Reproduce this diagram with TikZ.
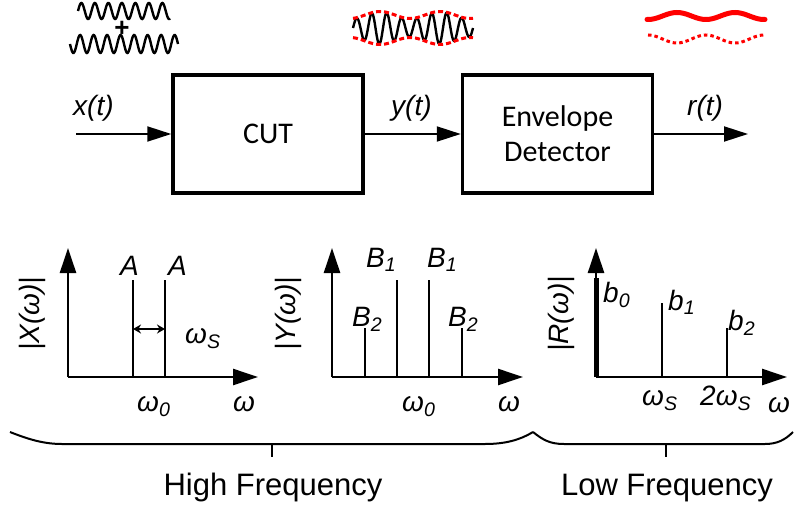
\documentclass[tikz,border=0pt]{standalone}
\usepackage{fontspec}
\setmainfont{Liberation Sans}
\newfontfamily\boxfont{Carlito}
\usetikzlibrary{arrows.meta,positioning,calc}

\begin{document}
\begin{tikzpicture}[x=1pt,y=-1pt,
  block/.style={draw, line width=3.5pt, minimum width=190pt, minimum height=118pt, align=center, font=\boxfont\fontsize{30}{35}\selectfont},
  sigarrow/.style={line width=2pt, -{Triangle[length=24pt,width=15pt]}},
  axis/.style={line width=2.5pt, -{Triangle[length=25pt,width=16pt]}},
  spec/.style={line width=2pt},
  lbl/.style={anchor=base west, inner sep=0pt, font=\itshape\fontsize{28}{30}\selectfont},
  ylbl/.style={rotate=90, inner sep=0pt, font=\itshape\fontsize{28}{30}\selectfont},
  band/.style={anchor=base, inner sep=0pt, font=\fontsize{31}{35}\selectfont},
  wave/.style={line width=2.4pt, smooth},
  env/.style={red, line width=3pt, smooth}
]
\useasboundingbox (0,0) rectangle (794,508);

% Blocks
\node[block] (cut) at (268,134) {CUT};
\node[block] (det) at (557.5,134) {Envelope\\Detector};
\coordinate (in) at (76,134);
\coordinate (out) at (748,134);

% arrows
\draw[sigarrow] (in) -- (cut);
\draw[sigarrow] (cut) -- (det);
\draw[sigarrow] (det) -- (out);
\node[lbl] (xt) at (73,115) {x(t)};
\node[lbl] (yt) at (391,115) {y(t)};
\node[lbl] (rt) at (687,115) {r(t)};

% Waveforms on top
\draw[wave] plot[domain=78:170, samples=160] (\x, {11 - 8*sin((\x-78)*26.667)});
\draw[wave] plot[domain=70:178, samples=180] (\x, {44 + 9*sin((\x-70)*26.667)});
\node[inner sep=0pt, font=\bfseries\fontsize{26}{26}\selectfont] (plus) at (122,29) {+};

\draw[wave] plot[domain=353:473, samples=240] (\x, {28 - (12.5+3.5*cos((\x-380)*6))*sin((\x-353)*24)});
\draw[env, dash pattern=on 5pt off 3pt] plot[domain=353:473, samples=80] (\x, {28 - (13+3.5*cos((\x-380)*6))});
\draw[env, dash pattern=on 5pt off 3pt] plot[domain=353:473, samples=80] (\x, {28 + (13+3.5*cos((\x-380)*6))});

\draw[env, line width=5pt, line cap=round] plot[domain=647:765, samples=80] (\x, {16 - 3.5*cos((\x-677)*6.207)});
\draw[env, dash pattern=on 3.5pt off 3pt] plot[domain=648:765, samples=80] (\x, {39 + 4*cos((\x-677)*6.207)});

% Spectrum of x(t)
\coordinate (xo) at (68,377);
\coordinate (xup) at (68,248);
\coordinate (xright) at (258,377);
\draw[axis] (xo) -- (xup);
\draw[axis] (xo) -- (xright);
\foreach \xx in {133,165} \draw[spec] (\xx,377) -- (\xx,280);
\draw[line width=1.5pt, {Stealth[length=8pt,width=9pt]}-{Stealth[length=8pt,width=9pt]}] (133,329) -- (165,329);
\node[lbl] (xa1) at (120,275) {A};
\node[lbl] (xa2) at (168,275) {A};
\node[lbl] (xws) at (185,343) {ω\textsubscript{S}};
\node[lbl] (xw0) at (137,411) {ω\textsubscript{0}};
\node[lbl] (xw) at (233,411) {ω};
\node[ylbl] (xmag) at (32,314) {|X(ω)|};

% Spectrum of y(t)
\coordinate (yo) at (332,377);
\coordinate (yup) at (332,248);
\coordinate (yright) at (523,377);
\draw[axis] (yo) -- (yup);
\draw[axis] (yo) -- (yright);
\foreach \xx/\hh in {365/328,397/280,429/280,462/328} \draw[spec] (\xx,377) -- (\xx,\hh);
\node[lbl] (yb1) at (366,267) {B\textsubscript{1}};
\node[lbl] (yb1r) at (427,267) {B\textsubscript{1}};
\node[lbl] (yb2) at (352,326) {B\textsubscript{2}};
\node[lbl] (yb2r) at (448,326) {B\textsubscript{2}};
\node[lbl] (yw0) at (402,411) {ω\textsubscript{0}};
\node[lbl] (yw) at (498,411) {ω};
\node[ylbl] (ymag) at (288,314) {|Y(ω)|};

% Spectrum of r(t)
\coordinate (ro) at (596,377);
\coordinate (rup) at (596,248);
\coordinate (rright) at (787,377);
\draw[axis] (ro) -- (rup);
\draw[axis] (ro) -- (rright);
\draw[line width=5pt] (596,377) -- (596,278);
\draw[spec] (662,377) -- (662,303);
\draw[spec] (727,377) -- (727,328);
\node[lbl] (rb0) at (603,302) {b\textsubscript{0}};
\node[lbl] (rb1) at (668,310) {b\textsubscript{1}};
\node[lbl] (rb2) at (728,330) {b\textsubscript{2}};
\node[lbl] (rws) at (642,405) {ω\textsubscript{S}};
\node[lbl] (r2ws) at (700,405) {2ω\textsubscript{S}};
\node[lbl] (rw) at (768,412) {ω};
\node[ylbl] (rmag) at (561,314) {|R(ω)|};

% Braces
\draw[line width=2pt] (10,432) .. controls (30,440) and (45,444) .. (62,444) -- (485,444) .. controls (505,444) and (520,440) .. (533,432);
\draw[line width=2pt] (272,444) -- (272,457);
\draw[line width=2pt] (533,432) .. controls (543,440) and (550,444) .. (564,444) -- (765,444) .. controls (777,444) and (785,440) .. (793,432);
\draw[line width=2pt] (666,444) -- (666,457);
\node[band] (hf) at (273,495) {High Frequency};
\node[band] (lf) at (667,495) {Low Frequency};
\end{tikzpicture}
\end{document}
